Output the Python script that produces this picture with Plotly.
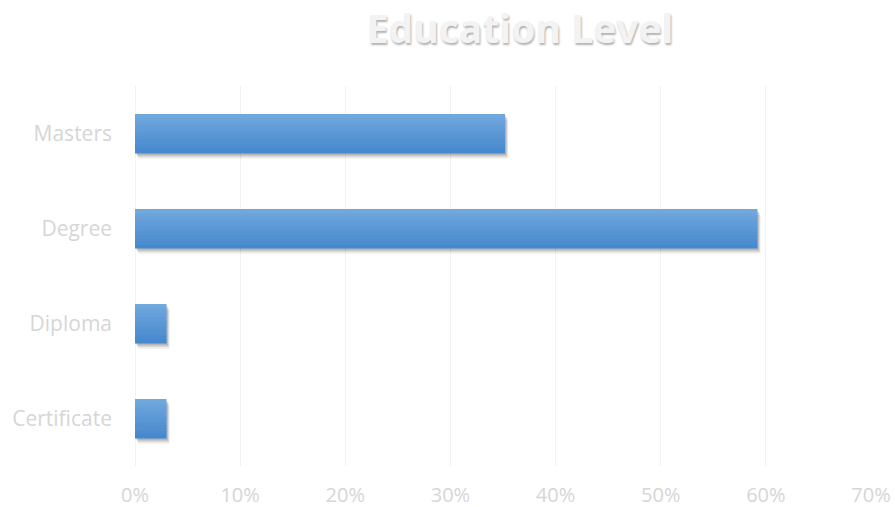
import plotly.graph_objects as go

categories = ["Masters", "Degree", "Diploma", "Certificate"]
values = [35.2, 59.2, 3.0, 3.0]
tick_vals = [0, 10, 20, 30, 40, 50, 60, 70]
tick_text = ["0%", "10%", "20%", "30%", "40%", "50%", "60%", "70%"]
title_text = "Education Level"

fig = go.Figure()

bar_w = 0.41
# soft shadow (drawn first, shifted down/right)
for dy, dx, col in [(0.06, 0.3, "rgba(0,0,0,0.07)"), (0.04, 0.2, "rgba(0,0,0,0.12)"),
                    (0.025, 0.12, "rgba(0,0,0,0.12)")]:
    fig.add_trace(go.Bar(
        x=values, y=categories, orientation="h", base=dx,
        width=bar_w, offset=-bar_w / 2 + dy,
        marker=dict(color=col, line=dict(width=0)),
        hoverinfo="skip", showlegend=False))

# gradient strips: top lighter, bottom darker
top = (112, 167, 221)
bot = (70, 137, 206)
N = 12
for i in range(N):
    t = i / (N - 1)
    c = tuple(round(top[k] + (bot[k] - top[k]) * t) for k in range(3))
    fig.add_trace(go.Bar(
        x=values, y=categories, orientation="h",
        width=bar_w / N + 0.006, offset=-bar_w / 2 + i * bar_w / N,
        marker=dict(color="rgb(%d,%d,%d)" % c, line=dict(width=0)),
        hovertemplate="%{y}: %{x}%<extra></extra>", showlegend=False))

fig.update_layout(
    width=895, height=507,
    barmode="overlay",
    paper_bgcolor="white", plot_bgcolor="white",
    margin=dict(l=135, r=24, t=86, b=41),
    title=dict(text=title_text, x=520 / 895, xanchor="center", y=1 - 29 / 507, yanchor="middle",
               font=dict(family="Open Sans, sans-serif", size=39, color="#f3f3f3",
                         weight="bold", shadow="1px 2px 2px rgba(0,0,0,0.3)")),
    xaxis=dict(range=[0, 70], tickvals=tick_vals, ticktext=tick_text,
               showgrid=True, gridcolor="#f2f2f2", gridwidth=1,
               zeroline=False, showline=False, ticks="", automargin=False,
               ticklabelstandoff=15,
               tickfont=dict(family="Open Sans, sans-serif", size=20, color="#d6d6d6")),
    yaxis=dict(categoryorder="array", categoryarray=categories, autorange="reversed",
               showgrid=False, zeroline=False, showline=False, ticks="", automargin=False,
               ticklabelstandoff=22,
               tickfont=dict(family="Open Sans, sans-serif", size=21, color="#d6d6d6")),
)
fig.add_vline(x=0, line=dict(color="#e8e8e8", width=1), layer="below")

fig.write_html("out.html", config={"displayModeBar": False},
               post_script="document.body.style.margin='0';document.body.style.overflow='hidden';")
